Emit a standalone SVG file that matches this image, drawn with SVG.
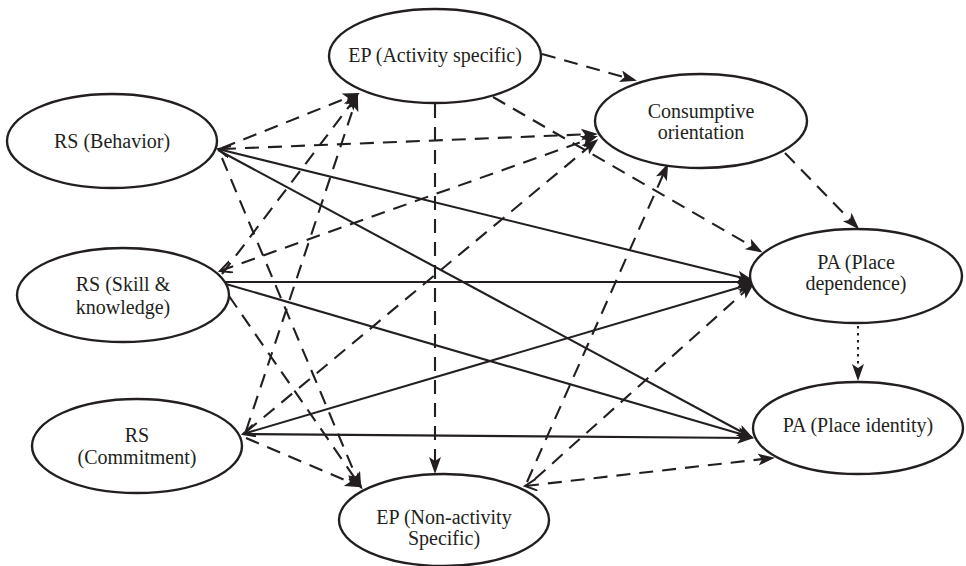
<svg xmlns="http://www.w3.org/2000/svg" width="966" height="566" viewBox="0 0 966 566">
<defs>
<marker id="arr" markerUnits="userSpaceOnUse" markerWidth="20" markerHeight="14" refX="14" refY="6" orient="auto">
<path d="M0,0 L17,6 L0,12 L4,6 z" fill="#231f20"/>
</marker>
<marker id="open" markerUnits="userSpaceOnUse" markerWidth="16" markerHeight="16" refX="12" refY="6" orient="auto-start-reverse">
<path d="M0,0 L12,6 L0,12" fill="none" stroke="#231f20" stroke-width="2"/>
</marker>
</defs>
<style>
.node ellipse{fill:#fff;stroke:#231f20;stroke-width:2.4}
.node text{font-family:"Liberation Serif",serif;font-size:20px;fill:#231f20;text-anchor:middle}
.c path{fill:none;stroke:#231f20;stroke-width:2.1}
.c .d{stroke-dasharray:14 9;marker-end:url(#arr)}
.c .s{marker-end:url(#arr)}
.c .t{stroke-dasharray:2.5 4.5;marker-end:url(#arr)}
</style>
<rect width="966" height="566" fill="#fff"/>
<g id="connectors" class="c">
<path class="d" d="M542,54 L634,80"/>
<path class="d" d="M493,97 L760,251"/>
<path class="d" d="M785,153 L857,227"/>
<path class="d" d="M435,104 L435,471"/>
<path class="d" d="M222,148 L357,94"/>
<path class="d" d="M222,149 L595,134"/>
<path class="d" d="M222,158 L360,486"/>
<path class="d" d="M222,274 L357,96"/>
<path class="d" d="M220,271 L595,137" marker-start="url(#open)"/>
<path class="d" d="M229,296 L361,487"/>
<path class="d" d="M246,431 L357,97"/>
<path class="d" d="M246,432 L596,141"/>
<path class="d" d="M246,438 L359,486"/>
<path class="d" d="M527,482 L667,166"/>
<path class="d" d="M535,479 L752,285"/>
<path class="d" d="M525,486 L772,458" marker-start="url(#open)"/>
<path class="s" d="M218,149 L751,280" marker-start="url(#open)"/>
<path class="s" d="M218,150 L751,437"/>
<path class="s" d="M219,282 L751,282"/>
<path class="s" d="M219,282 L751,437"/>
<path class="s" d="M243,434 L751,284" marker-start="url(#open)"/>
<path class="s" d="M243,434 L751,438"/>
<path class="t" d="M858,326 L858,378"/>
</g>
<g id="rs-behavior" class="node"><ellipse cx="112" cy="141" rx="105" ry="47"/><text x="112" y="148">RS (Behavior)</text></g>
<g id="rs-skill" class="node"><ellipse cx="123" cy="295" rx="106" ry="47"/><text x="123" y="291">RS (Skill &amp;</text><text x="123" y="314">knowledge)</text></g>
<g id="rs-commitment" class="node"><ellipse cx="137" cy="446" rx="105" ry="47"/><text x="137" y="442">RS</text><text x="137" y="464">(Commitment)</text></g>
<g id="ep-activity" class="node"><ellipse cx="435" cy="56" rx="106" ry="47"/><text x="435" y="62">EP (Activity specific)</text></g>
<g id="consumptive" class="node"><ellipse cx="701" cy="121" rx="106" ry="47"/><text x="701" y="118">Consumptive</text><text x="701" y="139">orientation</text></g>
<g id="pa-dependence" class="node"><ellipse cx="856" cy="276" rx="106" ry="47"/><text x="856" y="269">PA (Place</text><text x="856" y="290">dependence)</text></g>
<g id="pa-identity" class="node"><ellipse cx="858" cy="428" rx="105" ry="46"/><text x="858" y="432">PA (Place identity)</text></g>
<g id="ep-nonactivity" class="node"><ellipse cx="444" cy="520" rx="105" ry="46"/><text x="444" y="524">EP (Non-activity</text><text x="444" y="545">Specific)</text></g>
</svg>
